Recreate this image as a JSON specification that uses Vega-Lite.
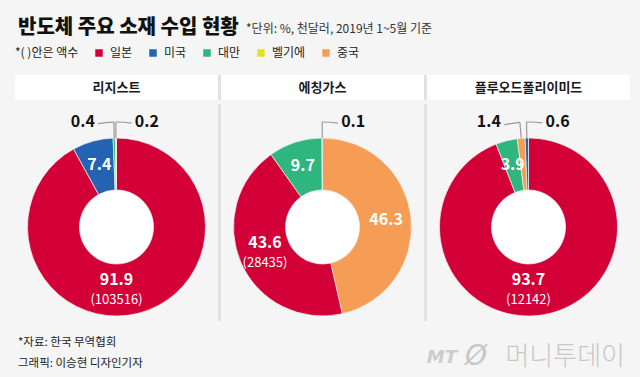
{
  "$schema": "https://vega.github.io/schema/vega-lite/v6.json",
  "background": "#f5f5f5",
  "padding": {"left": 15, "right": 10, "top": 18, "bottom": 5},
  "title": {
    "text": "반도체 주요 소재 수입 현황",
    "subtitle": "\u200b\u3000\u3000\u3000\u3000\u3000\u3000\u3000\u3000\u3000\u3000\u3000\u3000\u3000\u3000\u3000\u3000\u3000\u3000\u3000*단위: %, 천달러, 2019년 1~5월 기준",
    "anchor": "start",
    "dx": 3,
    "font": "Noto Sans CJK KR",
    "fontSize": 20,
    "fontWeight": 900,
    "color": "#111111",
    "subtitleFont": "Noto Sans CJK KR",
    "subtitleFontSize": 12,
    "subtitleColor": "#333333",
    "subtitlePadding": -14,
    "offset": 9
  },
  "datasets": {
    "shares": [
      {"material": "리지스트", "country": "일본", "value": 91.9, "amount": 103516},
      {"material": "리지스트", "country": "미국", "value": 7.4},
      {"material": "리지스트", "country": "대만", "value": 0.4},
      {"material": "리지스트", "country": "벨기에", "value": 0.2},
      {"material": "에칭가스", "country": "중국", "value": 46.3},
      {"material": "에칭가스", "country": "일본", "value": 43.6, "amount": 28435},
      {"material": "에칭가스", "country": "대만", "value": 9.7},
      {"material": "에칭가스", "country": "미국", "value": 0.1},
      {"material": "플루오드폴리이미드", "country": "일본", "value": 93.7, "amount": 12142},
      {"material": "플루오드폴리이미드", "country": "대만", "value": 3.9},
      {"material": "플루오드폴리이미드", "country": "중국", "value": 1.4},
      {"material": "플루오드폴리이미드", "country": "미국", "value": 0.6}
    ]
  },
  "spacing": 0,
  "vconcat": [
    {
      "width": 615,
      "height": 25,
      "data": {"name": "shares"},
      "transform": [{"aggregate": [{"op": "count", "as": "n"}], "groupby": ["material"]}],
      "layer": [
        {
          "mark": {"type": "rect", "color": "#ffffff"},
          "encoding": {
            "x": {"field": "material", "type": "nominal", "axis": null,
                  "scale": {"domain": ["리지스트", "에칭가스", "플루오드폴리이미드"], "paddingInner": 0.0146, "paddingOuter": 0}}
          }
        },
        {
          "transform": [{"filter": "datum.material != '리지스트'"}],
          "mark": {"type": "rule", "color": "#e2e2e2", "strokeWidth": 3},
          "encoding": {
            "x": {"field": "material", "type": "nominal", "axis": null, "bandPosition": -0.0074,
                  "scale": {"domain": ["리지스트", "에칭가스", "플루오드폴리이미드"], "paddingInner": 0.0146, "paddingOuter": 0}}
          }
        },
        {
          "mark": {"type": "text", "fontSize": 13, "fontWeight": "bold", "color": "#1a1a1a", "baseline": "middle"},
          "encoding": {
            "x": {"field": "material", "type": "nominal", "axis": null,
                  "scale": {"domain": ["리지스트", "에칭가스", "플루오드폴리이미드"], "paddingInner": 0.0146, "paddingOuter": 0}},
            "text": {"field": "material"}
          }
        }
      ]
    },
    {
      "width": 615,
      "height": 217,
      "data": {"name": "shares"},
      "transform": [
        {"stack": "value", "groupby": ["material"], "sort": [{"field": "value", "order": "descending"}], "offset": "normalize", "as": ["s0", "s1"]},
        {"joinaggregate": [{"op": "sum", "field": "value", "as": "total"}], "groupby": ["material"]},
        {"calculate": "datum.value / datum.total", "as": "share"},
        {"calculate": "(datum.s0 + datum.s1) / 2", "as": "mid"},
        {"calculate": "datum.share > 0.9 ? 0.5 : datum.mid", "as": "lt"},
        {"window": [{"op": "rank", "as": "rk"}], "groupby": ["material"], "sort": [{"field": "value", "order": "ascending"}]},
        {"calculate": "datum.rk == 1 ? datum.mid + 0.024 : datum.mid - 0.024", "as": "hl"},
        {"calculate": "isValid(datum.amount) ? '(' + datum.amount + ')' : ''", "as": "amt"}
      ],
      "encoding": {
        "x": {"field": "material", "type": "nominal", "axis": null,
              "scale": {"domain": ["리지스트", "에칭가스", "플루오드폴리이미드"], "paddingInner": 0.0146, "paddingOuter": 0}}
      },
      "layer": [
        {
          "transform": [{"filter": "datum.rk == 1 && datum.material != '리지스트'"}],
          "mark": {"type": "rule", "color": "#e2e2e2", "strokeWidth": 3},
          "encoding": {
            "x": {"field": "material", "type": "nominal", "axis": null, "bandPosition": -0.0074,
                  "scale": {"domain": ["리지스트", "에칭가스", "플루오드폴리이미드"], "paddingInner": 0.0146, "paddingOuter": 0}}
          }
        },
        {
          "transform": [{"filter": "datum.rk == 1"}],
          "mark": {"type": "arc", "radius": 38, "radius2": 0, "theta": 0, "theta2": 6.2832, "color": "#ffffff", "yOffset": 14.5},
          "encoding": {}
        },
        {
          "mark": {"type": "arc", "radius": 89, "radius2": 37, "stroke": "#f2f2f2", "strokeWidth": 0.7, "yOffset": 14.5},
          "encoding": {
            "theta": {"field": "s0", "type": "quantitative", "scale": {"domain": [0, 1]}},
            "theta2": {"field": "s1"},
            "color": {
              "field": "country", "type": "nominal",
              "scale": {"domain": ["일본", "미국", "대만", "벨기에", "중국"], "range": ["#d20036", "#2363b1", "#2fb57e", "#e4e02a", "#f59c55"]},
              "legend": {
                "orient": "top", "direction": "horizontal", "title": "*( )안은 액수", "titleOrient": "left",
                "titleFontSize": 12, "titleFontWeight": "normal", "titleColor": "#222222", "titlePadding": 14,
                "labelFontSize": 12, "labelColor": "#222222", "symbolType": "square", "symbolSize": 56,
                "symbolStrokeWidth": 0, "symbolOpacity": 1, "columnPadding": 14, "labelOffset": 5, "offset": 14
              }
            }
          }
        },
        {
          "transform": [{"filter": "datum.share >= 0.03 && !isValid(datum.amount)"}],
          "mark": {"type": "text", "fontSize": 16, "fontWeight": "bold", "color": "#ffffff", "baseline": "middle", "yOffset": 14.5},
          "encoding": {
            "theta": {"field": "lt", "type": "quantitative", "scale": {"domain": [0, 1]}},
            "radius": {"value": 64},
            "text": {"field": "value", "type": "quantitative", "format": ".1f"}
          }
        },
        {
          "transform": [{"filter": "isValid(datum.amount)"}],
          "mark": {"type": "text", "fontSize": 16, "fontWeight": "bold", "color": "#ffffff", "baseline": "middle", "dy": -10, "yOffset": 14.5},
          "encoding": {
            "theta": {"field": "lt", "type": "quantitative", "scale": {"domain": [0, 1]}},
            "radius": {"value": 63},
            "text": {"field": "value", "type": "quantitative", "format": ".1f"}
          }
        },
        {
          "transform": [{"filter": "isValid(datum.amount)"}],
          "mark": {"type": "text", "fontSize": 13, "fontWeight": "normal", "color": "#ffffff", "baseline": "middle", "dy": 10, "yOffset": 14.5},
          "encoding": {
            "theta": {"field": "lt", "type": "quantitative", "scale": {"domain": [0, 1]}},
            "radius": {"value": 63},
            "text": {"field": "amt"}
          }
        },
        {
          "transform": [{"filter": "datum.share < 0.02"}],
          "mark": {"type": "arc", "radius": 105, "radius2": 89, "filled": false, "color": "#9a9a9a", "strokeWidth": 1.2, "yOffset": 14.5},
          "encoding": {
            "theta": {"field": "mid", "type": "quantitative", "scale": {"domain": [0, 1]}},
            "theta2": {"field": "mid"}
          }
        },
        {
          "transform": [{"filter": "datum.share < 0.02"}],
          "mark": {"type": "arc", "radius": 105, "radius2": 105, "filled": false, "color": "#9a9a9a", "strokeWidth": 1.2, "yOffset": 14.5},
          "encoding": {
            "theta": {"field": "mid", "type": "quantitative", "scale": {"domain": [0, 1]}},
            "theta2": {"field": "hl"}
          }
        },
        {
          "transform": [{"filter": "datum.share < 0.02 && datum.rk == 1"}],
          "mark": {"type": "text", "fontSize": 16, "fontWeight": "bold", "color": "#111111", "baseline": "middle", "align": "left", "dx": 19, "yOffset": 14.5},
          "encoding": {
            "theta": {"field": "mid", "type": "quantitative", "scale": {"domain": [0, 1]}},
            "radius": {"value": 105},
            "text": {"field": "value", "type": "quantitative", "format": ".1f"}
          }
        },
        {
          "transform": [{"filter": "datum.share < 0.02 && datum.rk == 2"}],
          "mark": {"type": "text", "fontSize": 16, "fontWeight": "bold", "color": "#111111", "baseline": "middle", "align": "right", "dx": -19, "yOffset": 14.5},
          "encoding": {
            "theta": {"field": "mid", "type": "quantitative", "scale": {"domain": [0, 1]}},
            "radius": {"value": 105},
            "text": {"field": "value", "type": "quantitative", "format": ".1f"}
          }
        }
      ]
    },
    {
      "width": 615,
      "height": 52,
      "layer": [
        {
          "data": {"values": [{"src": "*자료: 한국 무역협회\n그래픽: 이승현 디자인기자"}]},
          "mark": {"type": "text", "align": "left", "baseline": "middle", "fontSize": 11.5, "color": "#222222", "dx": 3, "dy": -6, "lineBreak": "\n", "lineHeight": 21},
          "encoding": {
            "x": {"value": 0},
            "text": {"field": "src"}
          }
        },
        {
          "data": {"values": [{"logo": "머니투데이"}]},
          "mark": {"type": "text", "align": "right", "baseline": "middle", "fontSize": 26, "fontWeight": 300, "color": "#c8c8c8", "dx": -5, "dy": 8},
          "encoding": {"x": {"value": "width"}, "text": {"field": "logo"}}
        },
        {
          "data": {"values": [{"logo": "Ø"}]},
          "mark": {"type": "text", "align": "right", "baseline": "middle", "fontSize": 28, "fontWeight": 300, "fontStyle": "italic", "font": "DejaVu Sans", "color": "#c8c8c8", "dx": -143, "dy": 8},
          "encoding": {"x": {"value": "width"}, "text": {"field": "logo"}}
        },
        {
          "data": {"values": [{"logo": "MT"}]},
          "mark": {"type": "text", "align": "right", "baseline": "middle", "fontSize": 18, "fontWeight": "bold", "fontStyle": "italic", "font": "DejaVu Sans", "color": "#cccccc", "dx": -173, "dy": 9},
          "encoding": {"x": {"value": "width"}, "text": {"field": "logo"}}
        }
      ]
    }
  ],
  "config": {
    "font": "Noto Sans CJK KR",
    "view": {"stroke": null},
    "concat": {"spacing": 0}
  }
}
